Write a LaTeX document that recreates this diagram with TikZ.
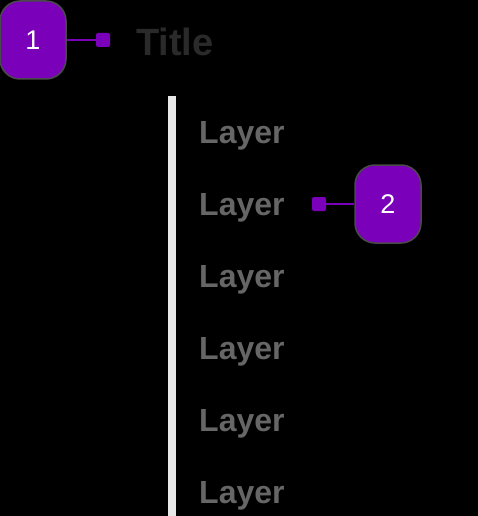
\documentclass[tikz,border=0pt]{standalone}
\usepackage{fontspec}
\setmainfont{Liberation Sans}
\definecolor{badge}{HTML}{7A00BA}
\definecolor{badgeline}{HTML}{4A4A4A}
\definecolor{layertxt}{HTML}{666666}
\definecolor{titletxt}{HTML}{2A2A2A}
\definecolor{rail}{HTML}{E8E8E8}
\tikzset{
  badgebox/.style={fill=badge, draw=badgeline, line width=1.5pt, rounded corners=20pt,
    minimum width=66pt, minimum height=78pt, inner sep=0pt, text=white,
    font=\fontsize{27}{27}\selectfont},
  pin/.style={fill=badge, rounded corners=2pt, minimum size=14pt, inner sep=0pt},
  link/.style={draw=badge, line width=2.5pt},
  layer/.style={text=layertxt, font=\fontsize{32}{32}\selectfont\bfseries, inner sep=0pt, anchor=west},
}
\begin{document}
\begin{tikzpicture}[x=1pt,y=-1pt]
\useasboundingbox[fill=black] (0,0) rectangle (478,516);
\fill[rail] (168,96) rectangle (176,516);
\node[badgebox] (b1) at (33,40) {1};
\node[pin] (p1) at (103,40) {};
\draw[link] (b1.east) -- (p1.west);
\node[text=titletxt, font=\fontsize{38}{38}\selectfont\bfseries, inner sep=0pt, anchor=west] (title) at (136,42) {Title};
\foreach \i/\y in {1/136,2/208,3/280,4/352,5/424,6/496}{
  \node[layer] (l\i) at (199,\y) {Layer};
}
\node[badgebox] (b2) at (388,204) {2};
\node[pin] (p2) at (319,204) {};
\draw[link] (p2.east) -- (b2.west);
\end{tikzpicture}
\end{document}
